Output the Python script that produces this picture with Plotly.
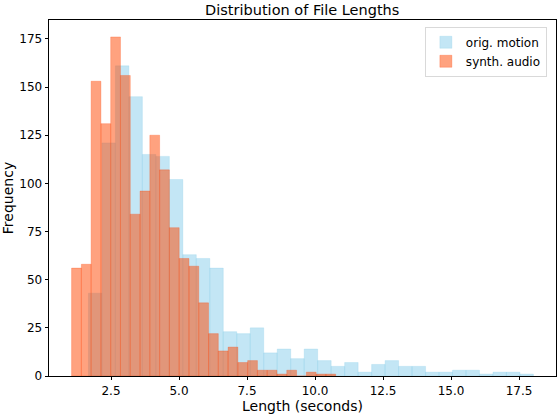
import numpy as np
import plotly.graph_objects as go

# histogram counts
motion_counts = [43, 121, 161, 145, 115, 114, 102, 63, 61, 56, 23, 22, 25, 12, 14, 9, 14,
                 8, 5, 7, 2, 6, 8, 5, 5, 2, 2, 3, 3, 1, 2, 2, 1]
motion_range = [1.67, 18.03]

audio_counts = [56, 58, 153, 131, 176, 156, 84, 96, 125, 107, 77, 61, 57, 38, 22, 13, 15,
                7, 8, 3, 3, 1, 3, 0, 2, 1, 1]
audio_range = [1.05, 10.76]

x_ticks = [2.5, 5.0, 7.5, 10.0, 12.5, 15.0, 17.5]
y_ticks = [0, 25, 50, 75, 100, 125, 150, 175]


def bins(counts, rng):
    edges = np.linspace(rng[0], rng[1], len(counts) + 1)
    return (edges[:-1] + edges[1:]) / 2, edges[1] - edges[0]


fig = go.Figure()

xm, wm = bins(motion_counts, motion_range)
fig.add_trace(go.Bar(x=xm, y=motion_counts, width=wm, name="orig. motion",
                     marker=dict(color="rgba(135,206,235,0.5)",
                                 line=dict(color="rgba(135,206,235,0.5)", width=0.5))))

xa, wa = bins(audio_counts, audio_range)
fig.add_trace(go.Bar(x=xa, y=audio_counts, width=wa, name="synth. audio",
                     marker=dict(color="rgba(255,69,0,0.5)",
                                 line=dict(color="rgba(255,69,0,0.5)", width=0.5))))

fig.update_layout(
    width=558, height=414,
    margin=dict(l=49, r=2, t=20, b=38),
    barmode="overlay",
    plot_bgcolor="white", paper_bgcolor="white",
    font=dict(family="DejaVu Sans", size=12, color="black"),
    title=dict(text="Distribution of File Lengths", x=0.5416, xanchor="center",
               y=0.977, yanchor="middle", font=dict(size=14.5)),
    legend=dict(x=0.982, xanchor="right", y=0.981, yanchor="top",
                bordercolor="#d9d9d9", borderwidth=1, bgcolor="rgba(255,255,255,0.8)",
                font=dict(size=12), itemwidth=30, tracegroupgap=0),
    showlegend=True,
)
fig.update_xaxes(range=[0.22, 18.86], tickvals=x_ticks, tickformat=".1f",
                 ticks="outside", ticklen=3.5, tickcolor="black",
                 showline=True, linecolor="black", linewidth=0.8, mirror=True,
                 showgrid=False, zeroline=False,
                 title=dict(text="Length (seconds)", standoff=4))
fig.update_yaxes(range=[0, 184.8], tickvals=y_ticks,
                 ticks="outside", ticklen=3.5, tickcolor="black",
                 showline=True, linecolor="black", linewidth=0.8, mirror=True,
                 showgrid=False, zeroline=False,
                 title=dict(text="Frequency", standoff=6))

# drop the default page margin so the figure sits at the window corner
fig.write_html("out.html", config={"displayModeBar": False},
               post_script="document.body.style.margin='0';")
